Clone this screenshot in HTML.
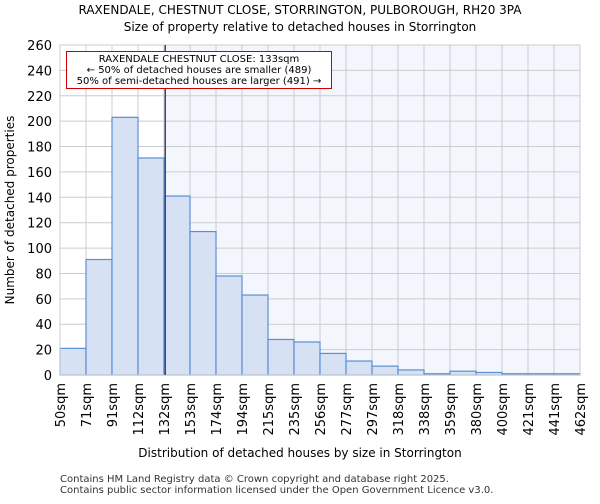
<!DOCTYPE html>
<html><head><meta charset="utf-8"><style>
body{margin:0;background:#fff;font-family:"DejaVu Sans","Liberation Sans",sans-serif;}
text{font-family:"DejaVu Sans","Liberation Sans",sans-serif;}
</style></head><body>
<svg id="chart" width="600" height="500">
<text x="300" y="14" text-anchor="middle" font-size="12">RAXENDALE, CHESTNUT CLOSE, STORRINGTON, PULBOROUGH, RH20 3PA</text>
<text x="300" y="31" text-anchor="middle" font-size="12">Size of property relative to detached houses in Storrington</text>
<g id="plot"></g>
<text x="300" y="457" text-anchor="middle" font-size="12">Distribution of detached houses by size in Storrington</text>
<text transform="translate(14,210) rotate(-90)" text-anchor="middle" font-size="12">Number of detached properties</text>
<text x="60" y="482" font-size="10" fill="#333">Contains HM Land Registry data © Crown copyright and database right 2025.</text>
<text x="60" y="493" font-size="10" fill="#333">Contains public sector information licensed under the Open Government Licence v3.0.</text>
</svg>
<script>
const binLabels=["50sqm","71sqm","91sqm","112sqm","132sqm","153sqm","174sqm","194sqm","215sqm","235sqm","256sqm","277sqm","297sqm","318sqm","338sqm","359sqm","380sqm","400sqm","421sqm","441sqm","462sqm"];
const counts=[21,91,203,171,141,113,78,63,28,26,17,11,7,4,1,3,2,1,1,1];
const yTicks=[0,20,40,60,80,100,120,140,160,180,200,220,240,260];
const markerValue=133;
const NS="http://www.w3.org/2000/svg";
const L=60,R=580,T=45,B=375,yMax=260;
const nb=counts.length;
const bw=(R-L)/nb;
const xs=i=>L+i*bw;
const ys=v=>B-(v/yMax)*(B-T);
const edgeVals=binLabels.map(s=>parseFloat(s));
function xv(v){for(let i=0;i<edgeVals.length-1;i++){if(v<=edgeVals[i+1])return xs(i)+(v-edgeVals[i])/(edgeVals[i+1]-edgeVals[i])*bw;}return R;}
const g=document.getElementById('plot');
function mk(t,a){const e=document.createElementNS(NS,t);for(const k in a)e.setAttribute(k,a[k]);g.appendChild(e);return e;}
const mx=xv(markerValue);
let e=mk('rect',{x:L,y:T,width:mx-L,height:B-T,fill:'#fff'});


e=mk('rect',{x:mx,y:T,width:R-mx,height:B-T,fill:'#f3f6fd'});


yTicks.forEach(v=>{
 e=mk('line',{x1:L,x2:R,y1:ys(v),y2:ys(v),stroke:'#cccccc','stroke-width':1});
 
 
 e=mk('text',{x:L-8,y:ys(v)+5,'text-anchor':'end','font-size':'13'});
 e.textContent=v;
 
 
});
binLabels.forEach((s,i)=>{
 e=mk('line',{x1:xs(i),x2:xs(i),y1:T,y2:B,stroke:'#cccccc','stroke-width':1});
 
 
 e=mk('text',{transform:`translate(${xs(i)+5},${B+8}) rotate(-90)`,'text-anchor':'end','font-size':'13'});
 e.textContent=s;
 
 
});
counts.forEach((c,i)=>{
 e=mk('rect',{x:xs(i),y:ys(c),width:bw,height:B-ys(c),fill:'#d6e1f3',stroke:'#5a8fd6','stroke-width':1.2});
 
 
});
e=mk('rect',{x:L,y:T,width:R-L,height:B-T,fill:'none',stroke:'#cccccc'});


e=mk('line',{x1:mx,x2:mx,y1:T,y2:B,stroke:'#2a2f6a','stroke-width':1.3});


e=mk('rect',{x:66.5,y:51.5,width:265,height:37,fill:'#fff',stroke:'#cc0000','stroke-width':1});


["RAXENDALE CHESTNUT CLOSE: 133sqm","← 50% of detached houses are smaller (489)","50% of semi-detached houses are larger (491) →"].forEach((t,i)=>{
 e=mk('text',{x:199,y:62+i*11,'text-anchor':'middle','font-size':'10'});
 e.textContent=t;
 
 
});
</script>
</body></html>
